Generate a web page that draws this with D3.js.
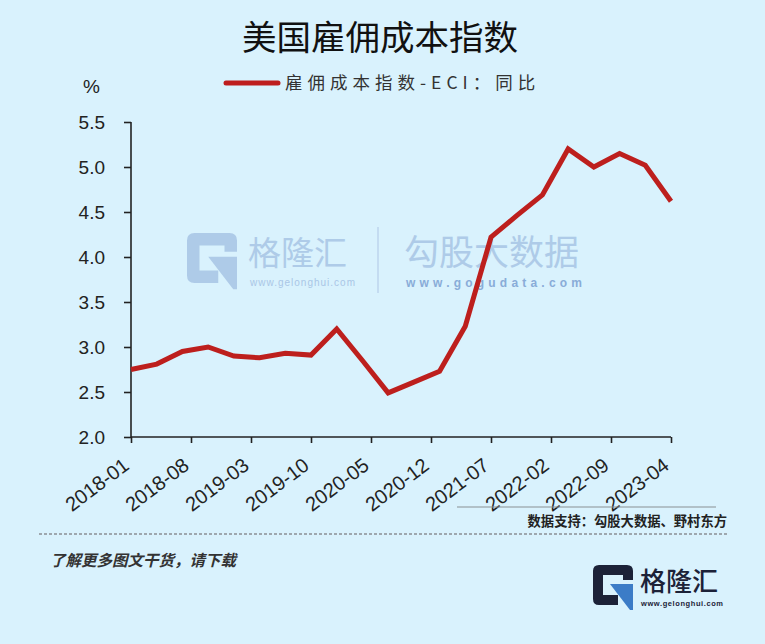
<!DOCTYPE html>
<html>
<head>
<meta charset="utf-8">
<script src="https://cdn.jsdelivr.net/npm/d3@7"></script>
<style>
  html, body { margin: 0; padding: 0; background: #d9f2fd; }
  svg { display: block; }
</style>
</head>
<body>
<svg id="chart" width="765" height="644"></svg>
<script>
// ---- data ----
const dates = ["2018-01","2018-04","2018-07","2018-10","2019-01","2019-04","2019-07","2019-10",
               "2020-01","2020-04","2020-07","2020-10","2021-01","2021-04","2021-07","2021-10",
               "2022-01","2022-04","2022-07","2022-10","2023-01","2023-04"];
const eciYoY = [2.75, 2.81, 2.95, 3.0, 2.9, 2.88, 2.93, 2.91,
                3.2, 2.85, 2.49, 2.61, 2.73, 3.23, 4.22, 4.46,
                4.69, 5.2, 5.0, 5.15, 5.02, 4.62];
const xTickLabels = ["2018-01","2018-08","2019-03","2019-10","2020-05","2020-12","2021-07","2022-02","2022-09","2023-04"];
const yTicks = [2.0, 2.5, 3.0, 3.5, 4.0, 4.5, 5.0, 5.5];
const titleText = "美国雇佣成本指数";
const seriesName = "雇佣成本指数-ECI：同比";
const unitLabel = "%";
const sourceText = "数据支持：勾股大数据、野村东方";
const footerText = "了解更多图文干货，请下载";

(function () {
const monthIndex = s => { const [yy, m] = s.split("-").map(Number); return (yy - 2018) * 12 + (m - 1); };

const svg = d3.select("#chart");
const W = 765, H = 644;
svg.append("rect").attr("width", W).attr("height", H).attr("fill", "#d9f2fd");

const pL = 131, pR = 671, pT = 122, pB = 437;
const x = d3.scaleLinear().domain([0, monthIndex("2023-04")]).range([pL, pR]);
const y = d3.scaleLinear().domain([2.0, 5.5]).range([pB, pT]);

function drawG(g, tx, ty, s, darkCol, blueCol) {
  const k = s / 40;
  const gg = g.append("g").attr("transform", `translate(${tx},${ty}) scale(${k})`);
  gg.append("path")
    .attr("d", "M6,0 H34 Q40,0 40,6 V15 H30 V10 H10 V30 H25 V40 H6 Q0,40 0,34 V6 Q0,0 6,0 Z")
    .attr("fill", darkCol);
  gg.append("path")
    .attr("d", "M17,19 H40 V45 L37,45 Z")
    .attr("fill", blueCol);
}

// ---- watermark ----
const wm = svg.append("g");
drawG(wm, 187, 233, 50, "#aecbe8", "#aecbe8");
wm.append("text").attr("x", 248).attr("y", 265).text("格隆汇")
  .attr("font-family", "Noto Sans CJK SC").attr("font-size", 33).attr("fill", "#aecbe8");
wm.append("text").attr("x", 250).attr("y", 286).text("www.gelonghui.com")
  .attr("font-family", "Liberation Sans, Arial").attr("font-size", 10).attr("fill", "#a9c6e6")
  .attr("textLength", 105);
wm.append("line").attr("x1", 378).attr("x2", 378).attr("y1", 227).attr("y2", 293)
  .attr("stroke", "#bcd4ec").attr("stroke-width", 1.5);
wm.append("text").attr("x", 404).attr("y", 265).text("勾股大数据")
  .attr("font-family", "Noto Sans CJK SC").attr("font-size", 35).attr("fill", "#aecbe8");
wm.append("text").attr("x", 406).attr("y", 287).text("www.gogudata.com")
  .attr("font-family", "Liberation Sans, Arial").attr("font-size", 12).attr("font-weight", 700)
  .attr("fill", "#89acd8").attr("textLength", 176);

// ---- title ----
svg.append("text").attr("x", 380).attr("y", 50).attr("text-anchor", "middle")
  .attr("font-family", "Noto Sans CJK SC").attr("font-size", 34.5).attr("font-weight", 400)
  .attr("fill", "#111").text(titleText);

// ---- unit + legend ----
svg.append("text").attr("x", 83).attr("y", 93).text(unitLabel)
  .attr("font-family", "Liberation Sans, Arial").attr("font-size", 19).attr("fill", "#222");
svg.append("line").attr("x1", 226).attr("x2", 278).attr("y1", 83).attr("y2", 83)
  .attr("stroke", "#be1e1e").attr("stroke-width", 5).attr("stroke-linecap", "round");
svg.append("text").attr("x", 285).attr("y", 89).text(seriesName)
  .attr("font-family", "Noto Sans CJK SC").attr("font-size", 17.5).attr("fill", "#333")
  .attr("letter-spacing", 5);

// ---- axes ----
const yAxis = svg.append("g").attr("transform", `translate(${pL},0)`)
  .call(d3.axisLeft(y).tickValues(yTicks).tickFormat(d3.format(".1f")).tickSize(7).tickPadding(19));
yAxis.selectAll("text").attr("font-family", "Liberation Sans, Arial").attr("font-size", 19).attr("fill", "#222");

const xAxis = svg.append("g").attr("transform", `translate(0,${pB})`)
  .call(d3.axisBottom(x).tickValues(xTickLabels.map(monthIndex))
    .tickFormat((d, i) => xTickLabels[i]).tickSize(6));
xAxis.selectAll("text")
  .attr("font-family", "Liberation Sans, Arial").attr("font-size", 20).attr("fill", "#222")
  .attr("text-anchor", "end").attr("x", 0).attr("y", 0).attr("dy", 0)
  .attr("transform", "translate(-1,31) rotate(-37)");

svg.selectAll(".domain").attr("stroke", "#222").attr("stroke-width", 1.6);
svg.selectAll(".tick line").attr("stroke", "#222").attr("stroke-width", 1.6);
yAxis.select(".domain").attr("d", `M0,${pT}V${pB}`);
xAxis.select(".domain").attr("d", `M${pL},0H${pR}`);

// ---- line ----
const line = d3.line().x((d, i) => x(monthIndex(dates[i]))).y(d => y(d));
svg.append("path").datum(eciYoY).attr("d", line)
  .attr("fill", "none").attr("stroke", "#bd1f1d").attr("stroke-width", 5)
  .attr("stroke-linejoin", "miter").attr("stroke-linecap", "butt");

// ---- source ----
svg.append("line").attr("x1", 457).attr("x2", 716).attr("y1", 507).attr("y2", 507)
  .attr("stroke", "#8a8f94").attr("stroke-width", 1.2);
svg.append("text").attr("x", 727).attr("y", 526).attr("text-anchor", "end").text(sourceText)
  .attr("font-family", "Noto Sans CJK SC").attr("font-size", 13.3).attr("font-weight", 700).attr("fill", "#222");

svg.append("line").attr("x1", 39).attr("x2", 729).attr("y1", 534).attr("y2", 534)
  .attr("stroke", "#8a8f94").attr("stroke-width", 1.3).attr("stroke-dasharray", "3,2");

// ---- footer ----
svg.append("text").attr("x", 50).attr("y", 566).text(footerText)
  .attr("font-family", "Noto Sans CJK SC").attr("font-size", 15.5).attr("font-weight", 700)
  .attr("font-style", "italic").attr("fill", "#333");

const logo = svg.append("g");
drawG(logo, 593, 565, 40, "#1c2238", "#3b7cc7");
logo.append("text").attr("x", 640).attr("y", 591).text("格隆汇")
  .attr("font-family", "Noto Sans CJK SC").attr("font-size", 26).attr("font-weight", 500).attr("fill", "#1c2238");
logo.append("text").attr("x", 641).attr("y", 606).text("www.gelonghui.com")
  .attr("font-family", "Liberation Sans, Arial").attr("font-size", 7.5).attr("font-weight", 700)
  .attr("fill", "#1c2238").attr("textLength", 82);
})();
</script>
</body>
</html>
